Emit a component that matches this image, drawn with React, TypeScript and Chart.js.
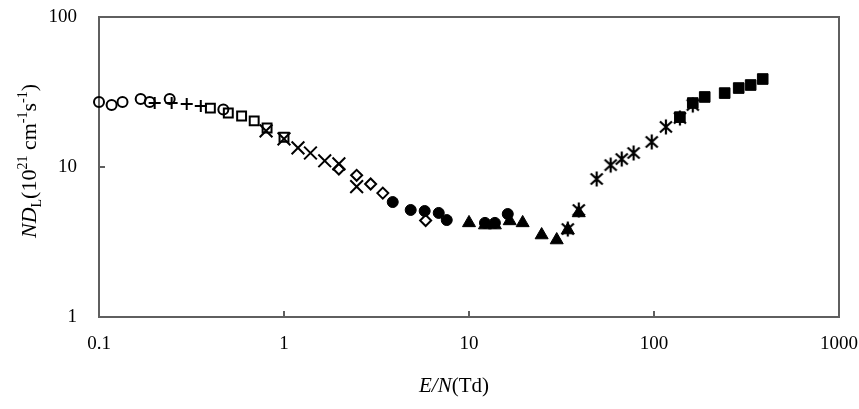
import React, { useEffect, useRef } from "react";
import { Chart, registerables } from "chart.js";

Chart.register(...registerables);

// ---- data (E/N in Td, ND_L in 10^21 cm^-1 s^-1) ----
const openCircleX = [0.1, 0.117, 0.134, 0.168, 0.188, 0.241, 0.47];
const openCircleY = [27.1, 25.9, 27.1, 28.4, 27.1, 28.4, 24.2];

const plusX = [0.2, 0.247, 0.298, 0.355];
const plusY = [26.7, 26.7, 26.3, 25.5];

const openSquareX = [0.4, 0.5, 0.59, 0.69, 0.81, 1.0];
const openSquareY = [24.7, 22.9, 21.9, 20.3, 18.2, 15.8];

const crossX = [0.8, 1.0, 1.19, 1.39, 1.66, 1.98, 2.47];
const crossY = [17.4, 15.4, 13.4, 12.4, 11.0, 10.5, 7.4];

const diamondX = [1.98, 2.47, 2.94, 3.42, 5.83];
const diamondY = [9.7, 8.8, 7.7, 6.7, 4.4];

const filledCircleX = [3.87, 4.84, 5.76, 6.86, 7.58, 12.2, 13.8, 16.2];
const filledCircleY = [5.84, 5.17, 5.09, 4.94, 4.43, 4.24, 4.24, 4.86];

const triangleX = [10, 12.2, 13.8, 16.6, 19.5, 24.7, 29.8, 34.2, 39.2];
const triangleY = [4.24, 4.1, 4.1, 4.37, 4.24, 3.52, 3.26, 3.8, 4.94];

const asteriskX = [34.2, 39.2, 49, 58.3, 66.9, 77.6, 97.2, 116, 138, 162];
const asteriskY = [3.86, 5.17, 8.32, 10.3, 11.3, 12.4, 14.7, 18.5, 21.2, 25.9];

const filledSquareX = [138, 162, 188, 241, 287, 333, 387];
const filledSquareY = [21.5, 26.7, 29.3, 31.1, 33.6, 35.2, 38.6];

const xTicks = [0.1, 1, 10, 100, 1000];
const yTicks = [1, 10, 100];

const FONT = '"Liberation Serif", "Times New Roman", serif';

type Seg = { t: string; italic?: boolean; sub?: boolean; sup?: boolean };
const xTitle: Seg[] = [{ t: "E/N", italic: true }, { t: "(Td)" }];
const yTitle: Seg[] = [
  { t: "ND", italic: true },
  { t: "L", sub: true },
  { t: "(10" },
  { t: "21", sup: true },
  { t: " cm" },
  { t: "-1", sup: true },
  { t: "s" },
  { t: "-1", sup: true },
  { t: ")" },
];

function pts(xs: number[], ys: number[]) {
  return xs.map((x, i) => ({ x, y: ys[i] }));
}

function makeAsterisk(): HTMLCanvasElement {
  const c = document.createElement("canvas");
  c.width = 18;
  c.height = 18;
  const g = c.getContext("2d")!;
  g.strokeStyle = "#000";
  g.lineWidth = 2.2;
  g.lineCap = "butt";
  g.beginPath();
  g.moveTo(3, 3.5);
  g.lineTo(15, 14.5);
  g.moveTo(15, 3.5);
  g.lineTo(3, 14.5);
  g.moveTo(9, 1.5);
  g.lineTo(9, 16.5);
  g.stroke();
  return c;
}

function drawRich(
  ctx: CanvasRenderingContext2D,
  segs: Seg[],
  cx: number,
  cy: number,
  size: number,
  rotate: boolean
) {
  ctx.save();
  ctx.translate(cx, cy);
  if (rotate) ctx.rotate(-Math.PI / 2);
  const small = Math.round(size * 0.65);
  const fontFor = (s: Seg) =>
    `${s.italic ? "italic " : ""}${s.sub || s.sup ? small : size}px ${FONT}`;
  const widths = segs.map((s) => {
    ctx.font = fontFor(s);
    return ctx.measureText(s.t).width;
  });
  const total = widths.reduce((a, b) => a + b, 0);
  let x = -total / 2;
  ctx.fillStyle = "#000";
  ctx.textBaseline = "alphabetic";
  ctx.textAlign = "left";
  const base = size * 0.33;
  segs.forEach((s, i) => {
    ctx.font = fontFor(s);
    const dy = s.sub ? size * 0.22 : s.sup ? -size * 0.42 : 0;
    ctx.fillText(s.t, x, base + dy);
    x += widths[i];
  });
  ctx.restore();
}

const framePlugin = {
  id: "frameAndTicks",
  beforeDatasetsDraw(chart: any) {
    const { ctx, chartArea, scales } = chart;
    const { left, right, top, bottom } = chartArea;
    ctx.save();
    ctx.strokeStyle = "#5f5f5f";
    ctx.lineWidth = 2;
    ctx.strokeRect(left, top, right - left, bottom - top);
    ctx.beginPath();
    xTicks.forEach((v) => {
      const px = scales.x.getPixelForValue(v);
      ctx.moveTo(px, bottom);
      ctx.lineTo(px, bottom - 6);
    });
    yTicks.forEach((v) => {
      const py = scales.y.getPixelForValue(v);
      ctx.moveTo(left, py);
      ctx.lineTo(left + 6, py);
    });
    ctx.stroke();
    ctx.restore();
  },
  afterDraw(chart: any) {
    const { ctx, chartArea } = chart;
    drawRich(ctx, xTitle, (chartArea.left + chartArea.right) / 2 - 15, 385, 21, false);
    drawRich(ctx, yTitle, 29, (chartArea.top + chartArea.bottom) / 2 - 6, 22, true);
  },
};

export default function App() {
  const ref = useRef<HTMLCanvasElement | null>(null);

  useEffect(() => {
    if (!ref.current) return;
    const asterisk = makeAsterisk();
    const base = { showLine: false, clip: false as any };
    const chart = new Chart(ref.current, {
      type: "scatter",
      data: {
        datasets: [
          {
            ...base,
            label: "open circle",
            data: pts(openCircleX, openCircleY),
            pointStyle: "circle",
            pointRadius: 5,
            borderWidth: 2,
            borderColor: "#000",
            backgroundColor: "rgba(0,0,0,0)",
          },
          {
            ...base,
            label: "plus",
            data: pts(plusX, plusY),
            pointStyle: "cross",
            pointRadius: 6,
            borderWidth: 2,
            borderColor: "#000",
          },
          {
            ...base,
            label: "open square",
            data: pts(openSquareX, openSquareY),
            pointStyle: "rect",
            pointRadius: 6.3,
            borderWidth: 2,
            borderColor: "#000",
            backgroundColor: "rgba(0,0,0,0)",
          },
          {
            ...base,
            label: "cross",
            data: pts(crossX, crossY),
            pointStyle: "crossRot",
            pointRadius: 9,
            borderWidth: 2,
            borderColor: "#000",
          },
          {
            ...base,
            label: "diamond",
            data: pts(diamondX, diamondY),
            pointStyle: "rectRot",
            pointRadius: 5.5,
            borderWidth: 2,
            borderColor: "#000",
            backgroundColor: "rgba(0,0,0,0)",
          },
          {
            ...base,
            label: "filled circle",
            data: pts(filledCircleX, filledCircleY),
            pointStyle: "circle",
            pointRadius: 5.5,
            borderWidth: 1,
            borderColor: "#000",
            backgroundColor: "#000",
          },
          {
            ...base,
            label: "triangle",
            data: pts(triangleX, triangleY),
            pointStyle: "triangle",
            pointRadius: 7.5,
            borderWidth: 1,
            borderColor: "#000",
            backgroundColor: "#000",
          },
          {
            ...base,
            label: "asterisk",
            data: pts(asteriskX, asteriskY),
            pointStyle: asterisk as any,
            pointRadius: 8,
          },
          {
            ...base,
            label: "filled square",
            data: pts(filledSquareX, filledSquareY),
            pointStyle: "rect",
            pointRadius: 7.5,
            borderWidth: 1,
            borderColor: "#000",
            backgroundColor: "#000",
          },
        ] as any,
      },
      options: {
        animation: false,
        responsive: false,
        maintainAspectRatio: false,
        layout: { padding: { left: 0, top: 17, right: 20, bottom: 0 } },
        plugins: {
          legend: { display: false },
          tooltip: { enabled: false },
        },
        scales: {
          x: {
            type: "logarithmic",
            min: 0.1,
            max: 1000,
            afterBuildTicks: (s: any) => {
              s.ticks = xTicks.map((v) => ({ value: v }));
            },
            afterFit: (s: any) => {
              s.height = 92;
              s.paddingLeft = 0;
              s.paddingRight = 0;
            },
            grid: { display: false },
            border: { display: false },
            ticks: {
              color: "#000",
              padding: 8,
              maxRotation: 0,
              autoSkip: false,
              font: { family: FONT, size: 19 },
              callback: (v: any) => String(v),
            },
          },
          y: {
            type: "logarithmic",
            min: 1,
            max: 100,
            afterBuildTicks: (s: any) => {
              s.ticks = yTicks.map((v) => ({ value: v }));
            },
            afterFit: (s: any) => {
              s.width = 99;
              s.paddingTop = 0;
              s.paddingBottom = 0;
            },
            grid: { display: false },
            border: { display: false },
            ticks: {
              color: "#000",
              padding: 14,
              autoSkip: false,
              font: { family: FONT, size: 19 },
              callback: (v: any) => String(v),
            },
          },
        },
      } as any,
      plugins: [framePlugin],
    });
    return () => chart.destroy();
  }, []);

  return (
    <div style={{ position: "absolute", left: 0, top: 0, width: 859, height: 409, background: "#fff" }}>
      <canvas ref={ref} width={859} height={409} style={{ display: "block" }} />
    </div>
  );
}
